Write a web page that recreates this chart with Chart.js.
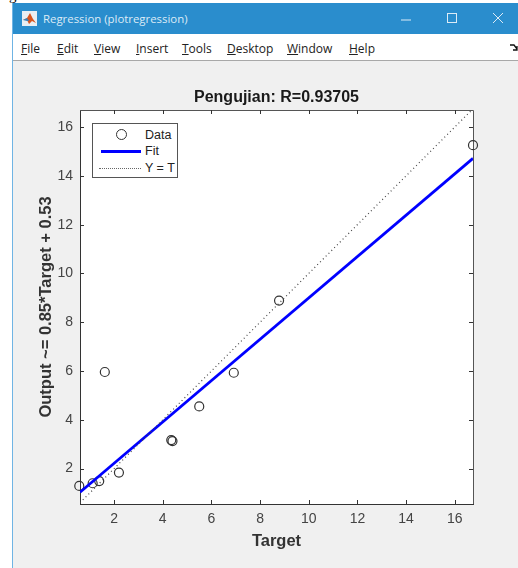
<!DOCTYPE html>
<html lang="en">
<head>
<meta charset="UTF-8">
<title>Regression (plotregression)</title>
<script src="https://cdn.jsdelivr.net/npm/chart.js"></script>
<style>
    html, body { margin: 0; padding: 0; background: #fff; overflow: hidden; }
    #page { position: relative; width: 518px; height: 568px; overflow: hidden; font-family: "Liberation Sans", Arial, sans-serif; }
    #stray { position: absolute; left: 9px; top: -13px; font: 15px "Liberation Serif", serif; color: #000; }
    #win { position: absolute; left: 12px; top: 3px; width: 506px; height: 565px; background: #F0F0F0; border-left: 1px solid #6FB4E4; box-sizing: border-box; }
    #titlebar { position: absolute; left: 0; top: 0; right: 0; height: 31px; background: #2A8DCD; color: #DCEBF6; font: 11.4px "Open Sans", sans-serif; line-height: 31px; }
    #titlebar .cap { position: absolute; left: 30px; top: 0; }
    #titlebar svg { position: absolute; }
    #menubar { position: absolute; left: 0; top: 31px; right: 0; height: 26px; background: #fff; border-bottom: 1px solid #A8A8A8; font: 12px "Open Sans", sans-serif; color: #222; }
    #menubar span { position: absolute; top: 6px; }
    #menubar u { text-decoration: underline; }
    #chartBox { position: absolute; left: 35px; top: 60px; }
    #legend { position: absolute; left: 92px; top: 123px; width: 86px; height: 55px; background: #fff; border: 1px solid #555; box-sizing: border-box; font-size: 12.5px; color: #222; }
    #legend .t { position: absolute; left: 52px; }
    #legend .circ { position: absolute; left: 23px; top: 5px; width: 9px; height: 9px; border: 1.2px solid #333; border-radius: 50%; }
    #legend .fit { position: absolute; left: 8px; top: 26px; width: 40px; height: 3px; background: #0000FF; }
    #legend .yt { position: absolute; left: 6px; top: 44px; width: 42px; border-top: 1px dotted #666; }
</style>
</head>
<body>
<div id="page">
    <div id="stray">g</div>
    <div id="win">
        <div id="titlebar">
            <svg style="left:9px;top:8px" width="15" height="15" viewBox="0 0 15 15">
                <rect width="15" height="15" fill="#E9EEF2"/>
                <path d="M1 9 L5 7 L8 2 L11 8 L14 12 L10 10 L7 13 L5 9 Z" fill="#D9541E"/>
                <path d="M1 9 L5 7 L7 10 L5 10 Z" fill="#3D7FB5"/>
            </svg>
            <span class="cap">Regression (plotregression)</span>
            <svg style="left:387px;top:10px" width="12" height="12"><line x1="1" y1="7" x2="11" y2="7" stroke="#DCEBF6"/></svg>
            <svg style="left:433px;top:9px" width="12" height="12"><rect x="1.5" y="1.5" width="9" height="9" fill="none" stroke="#DCEBF6"/></svg>
            <svg style="left:479px;top:9px" width="12" height="12"><path d="M1 1 L11 11 M11 1 L1 11" stroke="#DCEBF6"/></svg>
        </div>
        <div id="menubar">
            <span style="left:8px"><u>F</u>ile</span>
            <span style="left:44px"><u>E</u>dit</span>
            <span style="left:81px"><u>V</u>iew</span>
            <span style="left:123px"><u>I</u>nsert</span>
            <span style="left:169px"><u>T</u>ools</span>
            <span style="left:214px"><u>D</u>esktop</span>
            <span style="left:274px"><u>W</u>indow</span>
            <span style="left:336px"><u>H</u>elp</span>
            <svg style="position:absolute;left:497px;top:10px" width="8" height="7"><path d="M0 1 L4 1 L7 5 M7 2 L7 6 L3 6" fill="none" stroke="#111" stroke-width="1.3"/></svg>
        </div>
    </div>
    <div id="chartBox"><canvas id="regChart" width="483" height="508"></canvas></div>
    <div id="legend">
        <div class="circ"></div>
        <div class="t" style="top:4px">Data</div>
        <div class="fit"></div>
        <div class="t" style="top:20px">Fit</div>
        <div class="yt"></div>
        <div class="t" style="top:37px">Y = T</div>
    </div>
</div>

<script>
    const targetValues = [0.57, 1.12, 1.39, 1.62, 2.2, 4.35, 4.4, 5.5, 6.92, 8.78, 16.75];
    const outputValues = [1.29, 1.40, 1.49, 5.96, 1.84, 3.17, 3.13, 4.55, 5.93, 8.89, 15.26];
    const fitX = [0.6, 16.75];
    const fitY = [1.03, 14.72];
    const identityX = [0.6, 16.7];
    const identityY = [0.6, 16.7];
    const xTicks = [2, 4, 6, 8, 10, 12, 14, 16];
    const yTicks = [2, 4, 6, 8, 10, 12, 14, 16];

    function toPoints(xs, ys) {
        return xs.map((x, i) => ({ x: x, y: ys[i] }));
    }

    // white axes background
    const plotBackground = {
        id: 'plotBackground',
        beforeDraw(chart) {
            const { ctx, chartArea: a } = chart;
            ctx.save();
            ctx.fillStyle = '#fff';
            ctx.fillRect(a.left, a.top, a.right - a.left, a.bottom - a.top);
            ctx.restore();
        }
    };

    // MATLAB style box: inward ticks on all four sides
    const boxTicks = {
        id: 'boxTicks',
        beforeDatasetsDraw(chart) {
            const { ctx, chartArea: a, scales } = chart;
            ctx.save();
            ctx.strokeStyle = '#555';
            ctx.lineWidth = 1;
            ctx.beginPath();
            ctx.moveTo(a.left, a.top + 0.5);
            ctx.lineTo(a.right + 0.5, a.top + 0.5);
            ctx.lineTo(a.right + 0.5, a.bottom);
            ctx.stroke();
            ctx.strokeStyle = '#333';
            ctx.beginPath();
            xTicks.forEach(v => {
                const px = Math.round(scales.x.getPixelForValue(v)) + 0.5;
                ctx.moveTo(px, a.bottom); ctx.lineTo(px, a.bottom - 4);
                ctx.moveTo(px, a.top); ctx.lineTo(px, a.top + 4);
            });
            yTicks.forEach(v => {
                const py = Math.round(scales.y.getPixelForValue(v)) + 0.5;
                ctx.moveTo(a.left, py); ctx.lineTo(a.left + 4, py);
                ctx.moveTo(a.right, py); ctx.lineTo(a.right - 4, py);
            });
            ctx.stroke();
            ctx.restore();
        }
    };

    new Chart(document.getElementById('regChart').getContext('2d'), {
        type: 'scatter',
        data: {
            datasets: [
                {
                    label: 'Y = T',
                    data: toPoints(identityX, identityY),
                    showLine: true,
                    borderColor: '#444',
                    borderWidth: 1.2,
                    borderDash: [1, 3],
                    pointRadius: 0
                },
                {
                    label: 'Fit',
                    data: toPoints(fitX, fitY),
                    showLine: true,
                    borderColor: '#0000FF',
                    borderWidth: 2.8,
                    pointRadius: 0
                },
                {
                    label: 'Data',
                    data: toPoints(targetValues, outputValues),
                    showLine: false,
                    clip: false,
                    pointRadius: 4.5,
                    pointBorderWidth: 1.2,
                    pointBorderColor: '#333',
                    pointBackgroundColor: 'rgba(0,0,0,0)'
                }
            ]
        },
        options: {
            responsive: false,
            animation: false,
            plugins: {
                legend: { display: false },
                tooltip: { enabled: false },
                title: {
                    display: true,
                    text: 'Pengujian: R=0.93705',
                    color: '#1a1a1a',
                    font: { family: 'Liberation Sans', size: 16, weight: 'bold' },
                    padding: { top: 28, bottom: 2.8 }
                }
            },
            scales: {
                x: {
                    type: 'linear',
                    min: 0.6,
                    max: 16.75,
                    afterBuildTicks(scale) { scale.ticks = xTicks.map(v => ({ value: v })); },
                    afterFit(scale) { scale.height = 64; },
                    grid: { display: false, drawTicks: false },
                    border: { display: true, color: '#333', width: 1 },
                    ticks: { padding: 7, color: '#444', maxRotation: 0, font: { family: 'Liberation Sans', size: 14 } },
                    title: {
                        display: true,
                        text: 'Target',
                        color: '#333',
                        font: { family: 'Liberation Sans', size: 16.5, weight: 'bold' },
                        padding: { top: 0, bottom: 17 }
                    }
                },
                y: {
                    type: 'linear',
                    min: 0.55,
                    max: 16.7,
                    afterBuildTicks(scale) { scale.ticks = yTicks.map(v => ({ value: v })); },
                    afterFit(scale) { scale.width = 45; },
                    grid: { display: false, drawTicks: false },
                    border: { display: true, color: '#333', width: 1 },
                    ticks: { padding: 7, color: '#444', font: { family: 'Liberation Sans', size: 14 } },
                    title: {
                        display: true,
                        text: 'Output ~= 0.85*Target + 0.53',
                        color: '#333',
                        font: { family: 'Liberation Sans', size: 16.5, weight: 'bold' },
                        padding: { top: 2, bottom: 0 }
                    }
                },
                // empty right margin so the title stays centred on the figure
                rightMargin: {
                    type: 'linear',
                    position: 'right',
                    afterFit(scale) { scale.width = 45; },
                    grid: { display: false, drawTicks: false },
                    border: { display: false },
                    ticks: { display: false }
                }
            }
        },
        plugins: [plotBackground, boxTicks]
    });
</script>
</body>
</html>
